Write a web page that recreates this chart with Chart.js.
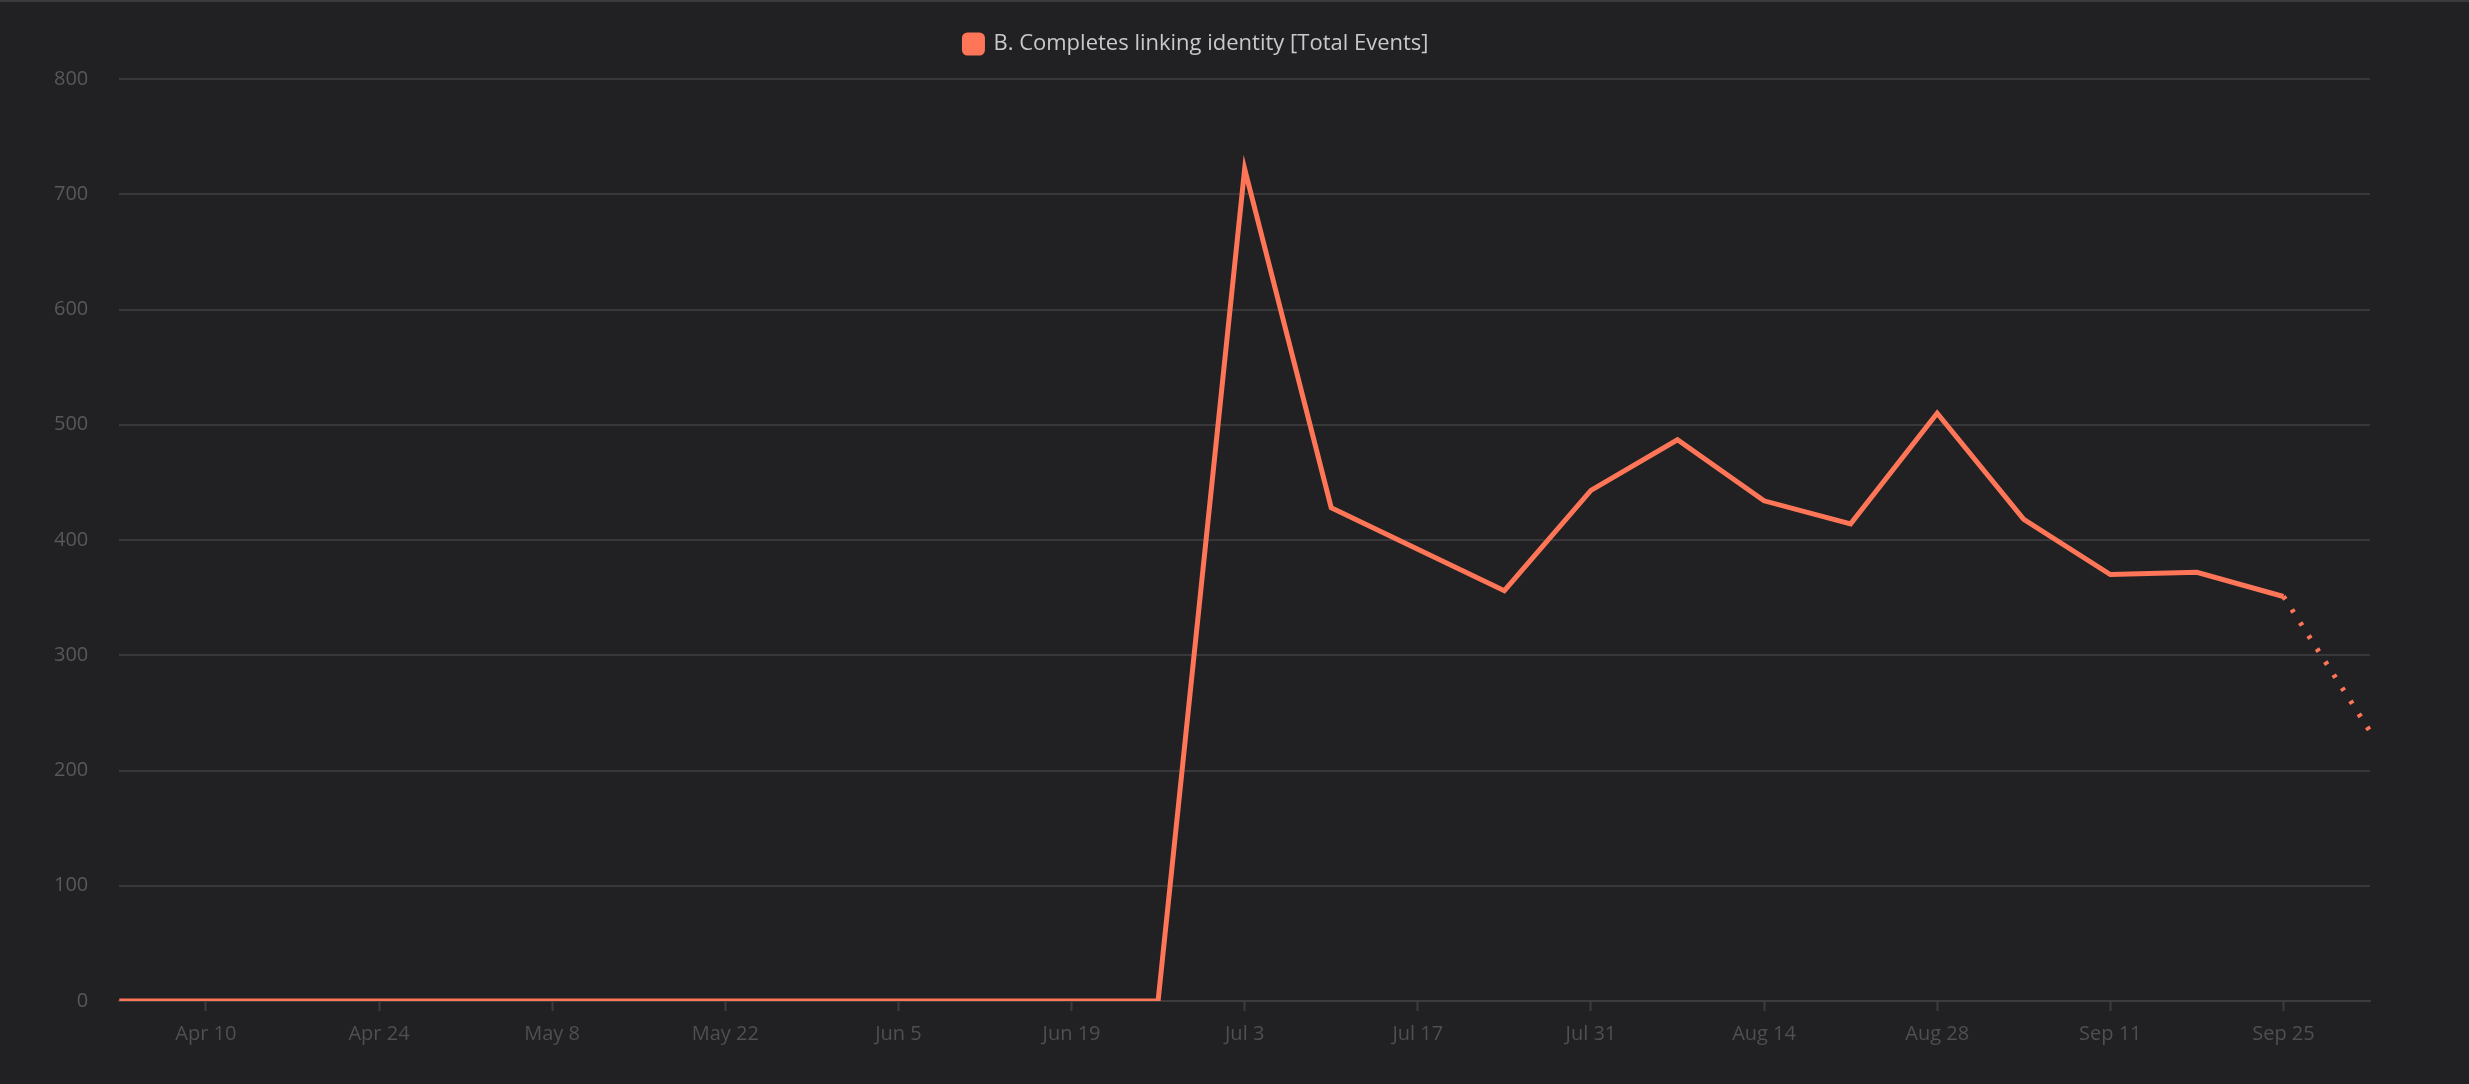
<!DOCTYPE html>
<html>
<head>
<meta charset="utf-8">
<script src="https://cdn.jsdelivr.net/npm/chart.js@4.4.0/dist/chart.umd.min.js"></script>
<style>
  html, body { margin: 0; padding: 0; background: #212123; }
  body { border-top: 2px solid #3a3a3c; box-sizing: border-box; }
  #wrap { width: 2469px; height: 1082px; }
</style>
</head>
<body>
<div id="wrap"><canvas id="chart"></canvas></div>
<script>
// weekly buckets, Apr 3 .. Oct 2
const weeks = ['Apr 3', 'Apr 10', 'Apr 17', 'Apr 24', 'May 1', 'May 8', 'May 15', 'May 22', 'May 29',
  'Jun 5', 'Jun 12', 'Jun 19', 'Jun 26', 'Jul 3', 'Jul 10', 'Jul 17', 'Jul 24', 'Jul 31',
  'Aug 7', 'Aug 14', 'Aug 21', 'Aug 28', 'Sep 4', 'Sep 11', 'Sep 18', 'Sep 25', 'Oct 2']
const totalEvents = [0, 0, 0, 0, 0, 0, 0, 0, 0, 0, 0, 0, 0, 722, 428, 392, 356, 443,
  487, 434, 414, 510, 418, 370, 372, 351, 234]
const seriesName = 'B. Completes linking identity [Total Events]'
const yTicks = [0, 100, 200, 300, 400, 500, 600, 700, 800]

const lineColor = '#ff7557'
const gridColor = '#38383b'
const lastIdx = totalEvents.length - 1

// a bit more room under the legend
const legendGap = {
  id: 'legendGap',
  beforeInit(chart) {
    const fit = chart.legend.fit
    chart.legend.fit = function () {
      fit.bind(chart.legend)()
      this.height += 14
    }
  }
}

const ctx = document.getElementById('chart').getContext('2d')
const chart = new Chart(ctx, {
  type: 'line',
  data: {
    labels: weeks,
    datasets: [{
      label: seriesName,
      data: totalEvents,
      borderColor: lineColor,
      backgroundColor: lineColor,
      borderWidth: 5,
      pointRadius: 0,
      tension: 0,
      fill: false,
      segment: {
        // last week is incomplete -> dotted
        borderDash: c => c.p1DataIndex === lastIdx ? [3.5, 12] : undefined
      }
    }]
  },
  plugins: [legendGap],
  options: {
    responsive: true,
    maintainAspectRatio: false,
    animation: false,
    layout: {
      padding: { left: 23, right: 99, top: 21, bottom: 27 }
    },
    plugins: {
      legend: {
        display: true,
        position: 'top',
        labels: {
          color: '#c9c9cb',
          boxWidth: 18,
          boxHeight: 18,
          useBorderRadius: true,
          borderRadius: 3,
          padding: 10,
          font: { family: 'Open Sans', size: 22 }
        }
      },
      tooltip: { enabled: false }
    },
    scales: {
      x: {
        type: 'category',
        offset: false,
        border: { display: true, color: '#3c3c3f', width: 2 },
        grid: {
          drawOnChartArea: false,
          drawTicks: true,
          tickLength: 10,
          tickColor: c => c.index % 2 === 1 ? '#3c3c3f' : 'transparent',
          tickWidth: 2
        },
        ticks: {
          autoSkip: false,
          maxRotation: 0,
          padding: 11,
          color: '#4f4f53',
          font: { family: 'Open Sans', size: 20 },
          callback: (v, i) => i % 2 === 1 ? weeks[i] : ''
        }
      },
      y: {
        min: 0,
        max: 800,
        afterBuildTicks: axis => { axis.ticks = yTicks.map(v => ({ value: v })) },
        border: { display: false },
        grid: {
          color: gridColor,
          lineWidth: 2,
          drawTicks: false
        },
        ticks: {
          padding: 31,
          color: '#58585c',
          font: { family: 'Open Sans', size: 20 }
        }
      }
    }
  }
})
</script>
</body>
</html>
